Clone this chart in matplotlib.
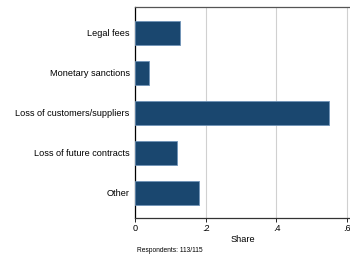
import matplotlib
matplotlib.use("Agg")
import matplotlib.pyplot as plt

# data
categories = ["Legal fees", "Monetary sanctions", "Loss of customers/suppliers",
              "Loss of future contracts", "Other"]
shares = [0.126, 0.040, 0.550, 0.118, 0.180]
xticks = [0, 0.2, 0.4, 0.6]
xticklabels = ["0", ".2", ".4", ".6"]

plt.rcParams["font.family"] = ["Liberation Sans", "DejaVu Sans"]

fig = plt.figure(figsize=(3.5, 2.59), dpi=100)
ax = fig.add_axes([0.386, 0.158, 0.614, 0.815])

ypos = list(range(len(categories)))
ax.barh(ypos, shares, height=0.61, color="#1a476f", edgecolor="#6f93b8",
        linewidth=0.6, zorder=3)
ax.set_yticks(ypos)
ax.set_yticklabels(categories, fontsize=6.6)
ax.set_ylim(len(categories) - 0.37, -0.65)
ax.tick_params(axis="y", length=0, pad=4)

ax.set_xlim(0, 0.608)
ax.set_xticks(xticks)
ax.set_xticklabels(xticklabels, fontsize=6.6)
ax.tick_params(axis="x", length=3, width=0.6, pad=1.5)
ax.grid(axis="x", color="#d0d0d0", linewidth=0.8, zorder=0)
ax.set_xlabel("Share", fontsize=6.6, labelpad=1)

for side in ["left", "bottom"]:
    ax.spines[side].set_color("black")
    ax.spines[side].set_linewidth(0.9)
ax.spines["bottom"].set_color("#333333")
ax.spines["top"].set_color("#555555")
ax.spines["top"].set_linewidth(0.9)
ax.spines["right"].set_visible(False)

fig.text(0.391, 0.033, "Respondents: 113/115", fontsize=4.8, ha="left", va="center")

fig.savefig("out.png", dpi=100)
